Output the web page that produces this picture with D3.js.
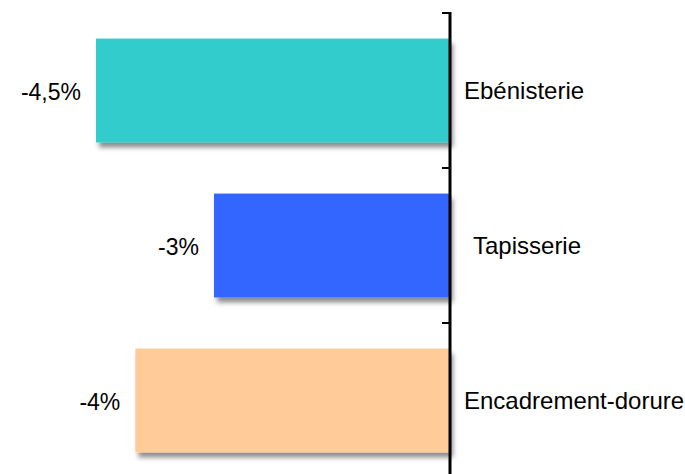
<!DOCTYPE html>
<html>
<head>
<meta charset="utf-8">
<script src="https://cdnjs.cloudflare.com/ajax/libs/d3/7.8.5/d3.min.js"></script>
<style>
  body { margin: 0; background: #fff; }
  text { font-family: "Liberation Sans", Arial, sans-serif; fill: #000; }
</style>
</head>
<body>
<script>
const width = 685,
    height = 474;

// data
const categories = ["Ebénisterie", "Tapisserie", "Encadrement-dorure"];
const values = [-4.5, -3, -4];
const valueLabels = ["-4,5%", "-3%", "-4%"];
const colors = ["#33cccc", "#3366ff", "#ffcc99"];
const labelShift = [0, 9, 0]; // Tapisserie sits a bit further right

const svg = d3.select("body").append("svg")
    .attr("width", width)
    .attr("height", height);

const defs = svg.append("defs");
const shadow = defs.append("filter")
    .attr("id", "shadow")
    .attr("x", "-10%").attr("y", "-10%")
    .attr("width", "130%").attr("height", "140%");
shadow.append("feDropShadow")
    .attr("dx", 3)
    .attr("dy", 5)
    .attr("stdDeviation", 2.5)
    .attr("flood-color", "#000")
    .attr("flood-opacity", 0.45);

const x = d3.scaleLinear()
    .domain([-4.5, 0])
    .range([96, 450]);

const y = d3.scaleBand()
    .domain(categories)
    .range([13, 478])
    .paddingInner(0.33)
    .paddingOuter(0.165);

// bars
svg.append("g").selectAll("rect")
    .data(values)
    .enter().append("rect")
    .attr("x", d => x(d))
    .attr("y", (d, i) => y(categories[i]))
    .attr("width", d => x(0) - x(d))
    .attr("height", y.bandwidth())
    .attr("filter", "url(#shadow)")
    .style("fill", (d, i) => colors[i]);

// value labels, left of each bar
svg.append("g").selectAll("text")
    .data(values)
    .enter().append("text")
    .attr("x", d => x(d) - 15)
    .attr("y", (d, i) => y(categories[i]) + y.bandwidth() / 2)
    .attr("dy", "0.4em")
    .attr("text-anchor", "end")
    .style("font-size", "23px")
    .text((d, i) => valueLabels[i]);

// axis at zero, ticks pointing left
const axis = svg.append("g")
    .attr("transform", "translate(" + x(0) + ",0)");

axis.append("line")
    .attr("x1", 0).attr("x2", 0)
    .attr("y1", 12).attr("y2", height)
    .style("stroke", "#000")
    .style("stroke-width", 3);

axis.selectAll(".tick")
    .data(categories)
    .enter().append("line")
    .attr("class", "tick")
    .attr("x1", -8).attr("x2", 0)
    .attr("y1", d => y(d) - y.step() * y.paddingInner() / 2)
    .attr("y2", d => y(d) - y.step() * y.paddingInner() / 2)
    .style("stroke", "#000")
    .style("stroke-width", 2);

// category labels, right of the axis
axis.selectAll(".cat")
    .data(categories)
    .enter().append("text")
    .attr("class", "cat")
    .attr("x", (d, i) => 14 + labelShift[i])
    .attr("y", d => y(d) + y.bandwidth() / 2)
    .attr("dy", "0.36em")
    .style("font-size", "24px")
    .text(d => d);
</script>
</body>
</html>
